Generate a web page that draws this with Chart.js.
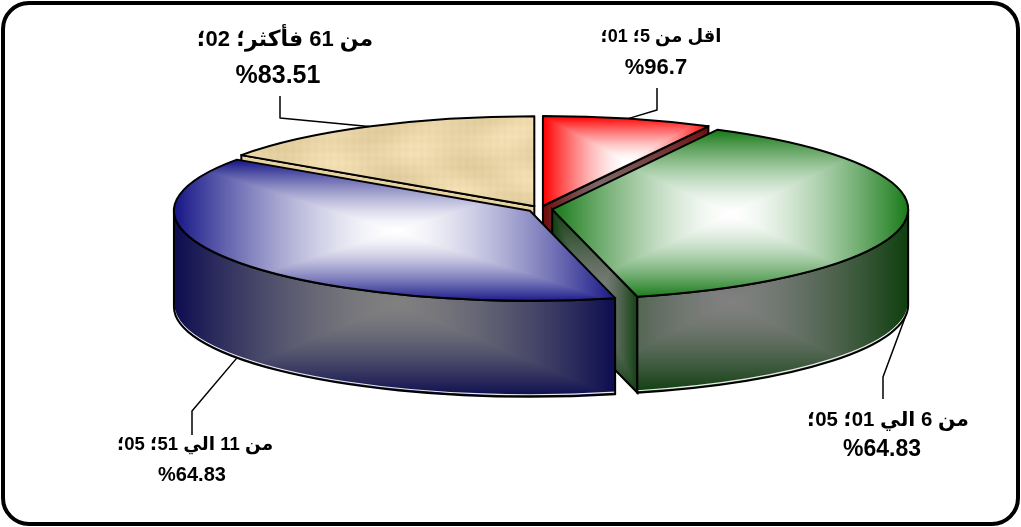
<!DOCTYPE html>
<html lang="ar">
<head>
<meta charset="utf-8">
<title>Pie</title>
<script src="https://cdn.jsdelivr.net/npm/chart.js@4"></script>
<style>
  html, body { margin: 0; padding: 0; background: #fff; }
  canvas { display: block; }
</style>
</head>
<body>
<canvas id="myChart" width="1021" height="527"></canvas>
<script>
const categories = ['اقل من 5', 'من 6 الي 01', 'من 11 الي 51', 'من 61 فأكثر'];
const values = [10, 50, 50, 20];
const valueLabels = ['01', '05', '05', '02'];
const percentLabels = ['%96.7', '%64.83', '%64.83', '%83.51'];

const topColors = [[255, 0, 0], [24, 122, 24], [22, 22, 135], null];
const wallEdges = [[110, 10, 10], [14, 62, 14], [12, 12, 80], [232, 210, 160]];
const wallCenter = [128, 128, 128];

// placing of the flattened pie on the page
const CX = 540, CY = 209, RX = 356, RY = 90, DEPTH = 96;
const wallOrder = [3, 0, 1, 2];

// label boxes: centre x of each line, line y, font size, elbow of the leader
const labelLayout = [
    { x1: 661, x2: 656, y1: 37, y2: 68, size1: 18, size2: 22, end: [657, 88], elbow: [657, 110], side: 'top' },
    { x1: 888, x2: 882, y1: 420, y2: 450, size1: 20.4, size2: 23, end: [883, 399], elbow: [883, 377], side: 'wall' },
    { x1: 195, x2: 192, y1: 445, y2: 475, size1: 18.5, size2: 20, end: [192, 435], elbow: [192, 411], side: 'wall' },
    { x1: 285, x2: 278, y1: 40, y2: 76, size1: 22, size2: 25, end: [280, 96], elbow: [280, 118], side: 'top' }
];

// rectangular "from centre" gradient, the canvas has no such thing built in
function shade(w, h, fn) {
    const c = document.createElement('canvas');
    c.width = Math.max(1, Math.ceil(w));
    c.height = Math.max(1, Math.ceil(h));
    const g = c.getContext('2d');
    const img = g.createImageData(c.width, c.height);
    for (let y = 0; y < c.height; y++) {
        for (let x = 0; x < c.width; x++) {
            const p = fn(x, y, c.width, c.height);
            const i = (y * c.width + x) * 4;
            img.data[i] = p[0];
            img.data[i + 1] = p[1];
            img.data[i + 2] = p[2];
            img.data[i + 3] = 255;
        }
    }
    g.putImageData(img, 0, 0);
    return c;
}

function rectGradient(w, h, edge, center) {
    return shade(w, h, function(x, y, cw, ch) {
        const d = Math.min(1, Math.max(Math.abs(x - cw / 2) / (cw / 2), Math.abs(y - ch / 2) / (ch / 2)));
        const t = Math.pow(d, 1.5);
        return [0, 1, 2].map(k => center[k] + (edge[k] - center[k]) * t);
    });
}

// parchment weave for the last slice
function parchment(w, h) {
    return shade(w, h, function(x, y) {
        const weave = Math.sin(x * 0.83) * 1.5 + Math.sin(y * 0.71) * 1.5;
        const blotch = Math.sin(x * 0.07 + Math.sin(y * 0.05) * 2) * 5 + Math.sin(y * 0.13 + x * 0.02) * 4;
        const v = weave + blotch;
        return [234 + v, 214 + v, 168 + v * 1.2];
    });
}

function sliceGeometry(arc, scale) {
    const p = arc.getProps(['startAngle', 'endAngle', 'outerRadius']);
    const mid = (p.startAngle + p.endAngle) / 2;
    const off = (arc.options.offset || 0) / 4;
    // the library grows the radius by the same amount it moves the slice
    return {
        start: p.startAngle,
        end: p.endAngle,
        mid: mid,
        x: CX + Math.cos(mid) * off * scale.sx,
        y: CY + Math.sin(mid) * off * scale.sy,
        rx: (p.outerRadius + off) * scale.sx,
        ry: (p.outerRadius + off) * scale.sy
    };
}

function edgePoint(g, angle) {
    return [g.x + Math.cos(angle) * g.rx, g.y + Math.sin(angle) * g.ry];
}

function scaleOf(arc) {
    const r = arc.outerRadius + (arc.options.offset || 0) / 4;
    return { sx: RX / r, sy: RY / r };
}

function topPath(ctx, g) {
    ctx.beginPath();
    ctx.moveTo(g.x, g.y);
    ctx.ellipse(g.x, g.y, g.rx, g.ry, 0, g.start, g.end);
    ctx.closePath();
}

function fillPath(ctx, pts, canvasFn) {
    const xs = pts.map(p => p[0]), ys = pts.map(p => p[1]);
    const x0 = Math.min(...xs), x1 = Math.max(...xs), y0 = Math.min(...ys), y1 = Math.max(...ys);
    ctx.save();
    ctx.clip();
    ctx.drawImage(canvasFn(x1 - x0, y1 - y0), x0, y0);
    ctx.restore();
}

function arcPoints(g, a, b) {
    const pts = [];
    for (let i = 0; i <= 40; i++) {
        pts.push(edgePoint(g, a + (b - a) * i / 40));
    }
    return pts;
}

function drawOuterWall(ctx, g, i) {
    const a = Math.max(g.start, 0), b = Math.min(g.end, Math.PI);
    if (b <= a) return;
    const top = arcPoints(g, a, b);
    const pts = top.concat(top.map(p => [p[0], p[1] + DEPTH]));
    const path = function() {
        ctx.beginPath();
        ctx.ellipse(g.x, g.y, g.rx, g.ry, 0, a, b);
        ctx.ellipse(g.x, g.y + DEPTH, g.rx, g.ry, 0, b, a, true);
        ctx.closePath();
    };
    path();
    ctx.save();
    ctx.clip();
    // gradient box covers the whole slice side, not only the clamped arc
    const all = arcPoints(g, g.start, g.end).concat([[g.x, g.y]]);
    const xs = all.map(p => p[0]);
    const x0 = Math.min(...xs), x1 = Math.max(...xs);
    const ys = pts.map(p => p[1]);
    const y0 = Math.min(...ys), y1 = Math.max(...ys);
    ctx.drawImage(rectGradient(x1 - x0, y1 - y0, wallEdges[i], wallCenter), x0, y0);
    // pale line just inside the bottom edge
    ctx.beginPath();
    ctx.ellipse(g.x, g.y + DEPTH - 2, g.rx, g.ry, 0, a, b);
    ctx.strokeStyle = '#e8e8e8';
    ctx.lineWidth = 1.2;
    ctx.stroke();
    ctx.restore();
    path();
    ctx.strokeStyle = '#000';
    ctx.lineWidth = 2;
    ctx.stroke();
}

function drawCutWall(ctx, g, angle, i) {
    const e = edgePoint(g, angle);
    const pts = [[g.x, g.y], e, [e[0], e[1] + DEPTH], [g.x, g.y + DEPTH]];
    ctx.beginPath();
    pts.forEach((p, k) => k ? ctx.lineTo(p[0], p[1]) : ctx.moveTo(p[0], p[1]));
    ctx.closePath();
    fillPath(ctx, pts, (w, h) => rectGradient(w, h, wallEdges[i], i === 3 ? wallEdges[i] : wallCenter));
    ctx.beginPath();
    pts.forEach((p, k) => k ? ctx.lineTo(p[0], p[1]) : ctx.moveTo(p[0], p[1]));
    ctx.closePath();
    ctx.strokeStyle = '#000';
    ctx.lineWidth = 2;
    ctx.stroke();
}

const piePlugin = {
    id: 'pie3d',
    beforeDraw(chart) {
        const ctx = chart.ctx;
        ctx.save();
        ctx.beginPath();
        ctx.roundRect(3, 3, 1015, 521, 26);
        ctx.strokeStyle = '#000';
        ctx.lineWidth = 4;
        ctx.stroke();
        ctx.restore();
    },
    beforeDatasetDraw(chart, args) {
        const ctx = chart.ctx;
        const arcs = args.meta.data;
        const scale = scaleOf(arcs[0]);
        const geo = arcs.map(a => sliceGeometry(a, scale));

        // sides first, back to front
        ctx.save();
        wallOrder.forEach(function(i) {
            const g = geo[i];
            // a cut face is visible when it looks toward the viewer
            if (i === 3) drawCutWall(ctx, g, g.start, i);
            if (i === 0) drawCutWall(ctx, g, g.end, i);
            if (i === 1) drawCutWall(ctx, g, g.end, i);
            drawOuterWall(ctx, g, i);
        });
        ctx.restore();

        // the library draws the top faces through this squashed transform
        ctx.save();
        ctx.translate(CX, CY);
        ctx.scale(scale.sx, scale.sy);
        ctx.translate(-arcs[0].x, -arcs[0].y);
    },
    afterDatasetDraw(chart, args) {
        const ctx = chart.ctx;
        ctx.restore();
        const arcs = args.meta.data;
        const scale = scaleOf(arcs[0]);
        arcs.forEach(function(arc, i) {
            const g = sliceGeometry(arc, scale);
            const pts = arcPoints(g, g.start, g.end).concat([[g.x, g.y]]);
            topPath(ctx, g);
            fillPath(ctx, pts, (w, h) => topColors[i] ? rectGradient(w, h, topColors[i], [255, 255, 255]) : parchment(w, h));
            topPath(ctx, g);
            ctx.strokeStyle = '#000';
            ctx.lineWidth = 2;
            ctx.lineJoin = 'round';
            ctx.stroke();
        });
    },
    afterDraw(chart) {
        const ctx = chart.ctx;
        const arcs = chart.getDatasetMeta(0).data;
        const scale = scaleOf(arcs[0]);
        ctx.save();
        ctx.fillStyle = '#000';
        ctx.strokeStyle = '#000';
        ctx.textAlign = 'center';
        ctx.textBaseline = 'middle';
        labelLayout.forEach(function(l, i) {
            const g = sliceGeometry(arcs[i], scale);
            const p = edgePoint(g, g.mid);
            ctx.lineWidth = 1.5;
            ctx.beginPath();
            ctx.moveTo(l.end[0], l.end[1]);
            ctx.lineTo(l.elbow[0], l.elbow[1]);
            ctx.lineTo(p[0], p[1] + (l.side === 'wall' ? DEPTH : 0));
            ctx.stroke();

            ctx.direction = 'rtl';
            ctx.font = 'bold ' + l.size1 + 'px "Liberation Sans", "DejaVu Sans", sans-serif';
            ctx.fillText(categories[i] + '؛ ' + valueLabels[i] + '؛', l.x1, l.y1);
            ctx.direction = 'ltr';
            ctx.font = 'bold ' + l.size2 + 'px "Liberation Sans", "DejaVu Sans", sans-serif';
            ctx.fillText(percentLabels[i], l.x2, l.y2);
        });
        ctx.restore();
    }
};

const ctx = document.getElementById('myChart').getContext('2d');
new Chart(ctx, {
    type: 'pie',
    plugins: [piePlugin],
    data: {
        labels: categories,
        datasets: [{
            data: values,
            backgroundColor: ['#ff0000', '#187a18', '#161687', '#ead6a8'],
            borderWidth: 0,
            offset: 35,
            clip: false
        }]
    },
    options: {
        responsive: false,
        animation: false,
        plugins: {
            legend: { display: false },
            tooltip: { enabled: false }
        }
    }
});
</script>
</body>
</html>
